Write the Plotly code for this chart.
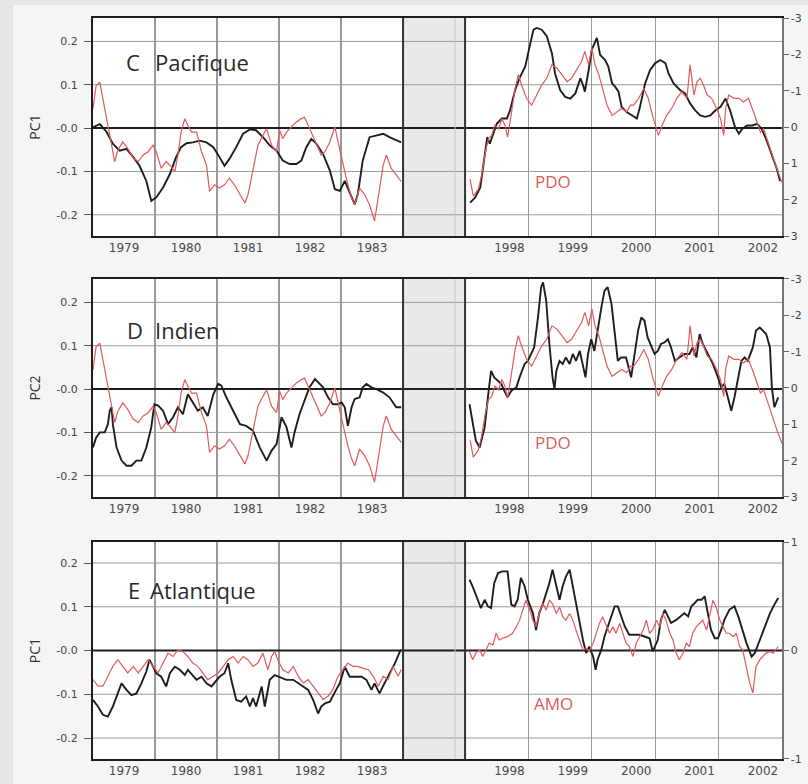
import plotly.graph_objects as go

# ---------------- data ----------------
YEARS_A = [1979, 1980, 1981, 1982, 1983]
YEARS_B = [1998, 1999, 2000, 2001, 2002]
PC_TICKS = [-0.2, -0.1, 0.0, 0.1, 0.2]
PC_TICKTEXT = ["-0.2", "-0.1", "-0.0", "0.1", "0.2"]
PDO_TICKS = [-3, -2, -1, 0, 1, 2, 3]
AMO_TICKS = [-1, 0, 1]
XRANGE_A = [1978.5, 1983.5]
XRANGE_B = [1997.3, 2002.3]
XRANGE_GAP = [0.0, 1.0]

# PDO index (red, panels C and D)
PDO_T1 = [1978.50, 1978.55, 1978.61, 1978.69, 1978.77, 1978.85, 1978.90, 1978.98, 1979.06, 1979.15,
          1979.23, 1979.31, 1979.39, 1979.47, 1979.52, 1979.60, 1979.68, 1979.76, 1979.82, 1979.87,
          1979.92, 1979.98, 1980.03, 1980.09, 1980.17, 1980.25, 1980.33, 1980.38, 1980.46, 1980.54,
          1980.62, 1980.70, 1980.78, 1980.87, 1980.95, 1981.00, 1981.08, 1981.16, 1981.24, 1981.30,
          1981.38, 1981.46, 1981.51, 1981.56, 1981.62, 1981.70, 1981.78, 1981.86, 1981.91, 1981.97,
          1982.02, 1982.08, 1982.13, 1982.18, 1982.24, 1982.32, 1982.40, 1982.45, 1982.51, 1982.56,
          1982.61, 1982.67, 1982.72, 1982.80, 1982.88, 1982.96, 1983.04, 1983.10, 1983.18, 1983.23,
          1983.31, 1983.39, 1983.47]
PDO_V1 = [-0.50, -1.14, -1.23, -0.50, 0.23, 0.95, 0.64, 0.41, 0.59, 0.86,
          0.95, 0.77, 0.68, 0.50, 0.68, 1.14, 0.95, 1.09, 1.23, 0.77,
          0.14, -0.23, -0.05, 0.14, 0.14, 0.68, 1.05, 1.77, 1.59, 1.68,
          1.59, 1.41, 1.59, 1.86, 2.09, 1.86, 1.14, 0.50, 0.23, 0.05,
          0.50, 0.68, 0.09, 0.32, 0.14, 0.00, -0.14, -0.23, -0.27, -0.05,
          0.14, 0.41, 0.59, 0.77, 0.68, 0.41, 0.00, 0.41, 0.86, 1.23,
          1.59, 1.95, 2.14, 1.68, 1.86, 2.14, 2.59, 1.95, 1.05, 0.77,
          1.14, 1.32, 1.50]
PDO_T2 = [1997.38, 1997.43, 1997.51, 1997.56, 1997.62, 1997.67, 1997.72, 1997.77, 1997.83, 1997.88,
          1997.93, 1997.97, 1998.01, 1998.09, 1998.14, 1998.19, 1998.27, 1998.35, 1998.43, 1998.51,
          1998.59, 1998.67, 1998.75, 1998.83, 1998.91, 1998.98, 1999.06, 1999.14, 1999.19, 1999.25,
          1999.30, 1999.35, 1999.41, 1999.48, 1999.54, 1999.62, 1999.69, 1999.77, 1999.85, 1999.91,
          1999.96, 2000.04, 2000.12, 2000.19, 2000.27, 2000.35, 2000.41, 2000.48, 2000.56, 2000.64,
          2000.72, 2000.80, 2000.85, 2000.91, 2000.96, 2001.01, 2001.06, 2001.12, 2001.19, 2001.27,
          2001.33, 2001.38, 2001.41, 2001.46, 2001.54, 2001.62, 2001.69, 2001.77, 2001.85, 2001.91,
          2001.96, 2002.01, 2002.06, 2002.14, 2002.22, 2002.30]
PDO_V2 = [1.44, 1.90, 1.71, 1.34, 0.69, 0.32, 0.23, -0.05, 0.05, -0.23,
          -0.05, 0.28, -0.14, -1.06, -1.44, -1.16, -0.79, -0.60, -0.88, -1.16,
          -1.34, -1.71, -1.62, -1.44, -1.25, -1.34, -1.57, -1.81, -2.08, -1.71,
          -2.18, -1.71, -1.44, -0.97, -0.60, -0.32, -0.42, -0.51, -0.42, -0.60,
          -0.60, -0.79, -1.06, -0.79, -0.23, 0.23, -0.05, -0.32, -0.51, -0.79,
          -0.97, -0.79, -1.71, -0.88, -1.25, -1.34, -1.16, -0.88, -0.79, -0.51,
          -0.23, 0.23, -0.51, -0.88, -0.79, -0.79, -0.69, -0.79, -0.42, -0.14,
          0.14, 0.05, 0.32, 0.69, 1.16, 1.53]

# Pacific PC1 (black, panel C)
PAC_T1 = [1978.50, 1978.61, 1978.72, 1978.82, 1978.93, 1979.04, 1979.15, 1979.25, 1979.36, 1979.44,
          1979.52, 1979.63, 1979.74, 1979.84, 1979.92, 1980.01, 1980.11, 1980.22, 1980.33, 1980.44,
          1980.54, 1980.62, 1980.70, 1980.81, 1980.92, 1981.03, 1981.13, 1981.24, 1981.35, 1981.46,
          1981.56, 1981.67, 1981.78, 1981.86, 1981.94, 1982.02, 1982.10, 1982.21, 1982.32, 1982.40,
          1982.48, 1982.56, 1982.64, 1982.72, 1982.77, 1982.85, 1982.96, 1983.07, 1983.18, 1983.28,
          1983.39, 1983.47]
PAC_V1 = [0.002, 0.009, -0.009, -0.036, -0.052, -0.048, -0.067, -0.087, -0.122, -0.168,
          -0.160, -0.137, -0.106, -0.067, -0.044, -0.035, -0.033, -0.029, -0.033, -0.044,
          -0.067, -0.087, -0.071, -0.044, -0.013, -0.003, -0.005, -0.021, -0.040, -0.052,
          -0.075, -0.083, -0.083, -0.075, -0.044, -0.025, -0.036, -0.060, -0.098, -0.141,
          -0.145, -0.122, -0.149, -0.176, -0.153, -0.075, -0.021, -0.017, -0.013, -0.021,
          -0.029, -0.033]
PAC_T2 = [1997.38, 1997.46, 1997.54, 1997.62, 1997.65, 1997.69, 1997.75, 1997.80, 1997.88, 1997.96,
          1998.01, 1998.09, 1998.17, 1998.25, 1998.33, 1998.38, 1998.43, 1998.51, 1998.59, 1998.67,
          1998.72, 1998.80, 1998.88, 1998.96, 1999.04, 1999.12, 1999.17, 1999.19, 1999.25, 1999.30,
          1999.38, 1999.43, 1999.51, 1999.56, 1999.62, 1999.67, 1999.72, 1999.77, 1999.85, 1999.93,
          2000.01, 2000.06, 2000.14, 2000.22, 2000.30, 2000.38, 2000.46, 2000.51, 2000.59, 2000.69,
          2000.77, 2000.85, 2000.93, 2001.01, 2001.09, 2001.17, 2001.25, 2001.33, 2001.41, 2001.48,
          2001.56, 2001.62, 2001.67, 2001.75, 2001.83, 2001.91, 2001.98, 2002.06, 2002.14, 2002.22,
          2002.27]
PAC_V2 = [-0.172, -0.160, -0.137, -0.052, -0.021, -0.036, -0.013, 0.010, 0.022, 0.022,
          0.041, 0.088, 0.119, 0.142, 0.196, 0.227, 0.231, 0.227, 0.212, 0.173,
          0.126, 0.088, 0.072, 0.068, 0.080, 0.115, 0.095, 0.084, 0.134, 0.181,
          0.208, 0.169, 0.157, 0.142, 0.103, 0.095, 0.084, 0.049, 0.037, 0.029,
          0.022, 0.049, 0.103, 0.134, 0.150, 0.157, 0.150, 0.126, 0.103, 0.088,
          0.080, 0.057, 0.041, 0.029, 0.026, 0.029, 0.041, 0.049, 0.068, 0.041,
          0.002, -0.013, -0.002, 0.006, 0.006, 0.010, -0.002, -0.029, -0.060, -0.095,
          -0.122]

# Indian PC2 (black, panel D)
IND_T1 = [1978.50, 1978.55, 1978.61, 1978.69, 1978.74, 1978.77, 1978.80, 1978.82, 1978.88, 1978.96,
          1979.04, 1979.12, 1979.20, 1979.28, 1979.36, 1979.44, 1979.49, 1979.55, 1979.63, 1979.71,
          1979.79, 1979.87, 1979.95, 1980.03, 1980.11, 1980.19, 1980.27, 1980.35, 1980.44, 1980.52,
          1980.57, 1980.65, 1980.76, 1980.87, 1980.97, 1981.08, 1981.19, 1981.30, 1981.38, 1981.46,
          1981.54, 1981.62, 1981.70, 1981.75, 1981.83, 1981.91, 1981.99, 1982.08, 1982.13, 1982.21,
          1982.29, 1982.37, 1982.45, 1982.51, 1982.56, 1982.61, 1982.67, 1982.72, 1982.80, 1982.85,
          1982.91, 1982.99, 1983.07, 1983.18, 1983.28, 1983.39, 1983.47]
IND_V1 = [-0.135, -0.112, -0.100, -0.100, -0.081, -0.050, -0.042, -0.081, -0.135, -0.165,
          -0.177, -0.177, -0.165, -0.165, -0.135, -0.088, -0.035, -0.038, -0.050, -0.081,
          -0.065, -0.042, -0.058, -0.012, -0.031, -0.050, -0.042, -0.062, -0.012, 0.012,
          0.008, -0.019, -0.050, -0.081, -0.085, -0.096, -0.135, -0.165, -0.142, -0.127,
          -0.065, -0.088, -0.135, -0.100, -0.058, -0.027, 0.004, 0.023, 0.015, 0.004,
          -0.019, -0.035, -0.035, -0.031, -0.042, -0.085, -0.042, -0.023, -0.019, 0.004,
          0.012, 0.004, 0.000, -0.008, -0.019, -0.042, -0.042]
IND_T2 = [1997.37, 1997.42, 1997.47, 1997.53, 1997.61, 1997.66, 1997.71, 1997.76, 1997.82, 1997.87,
          1997.92, 1997.97, 1998.03, 1998.11, 1998.16, 1998.24, 1998.29, 1998.34, 1998.39, 1998.45,
          1998.50, 1998.53, 1998.58, 1998.63, 1998.68, 1998.71, 1998.74, 1998.79, 1998.84, 1998.89,
          1998.95, 1999.00, 1999.05, 1999.11, 1999.16, 1999.20, 1999.24, 1999.29, 1999.34, 1999.39,
          1999.45, 1999.50, 1999.55, 1999.61, 1999.66, 1999.71, 1999.76, 1999.84, 1999.92, 1999.97,
          2000.03, 2000.08, 2000.13, 2000.18, 2000.24, 2000.29, 2000.34, 2000.39, 2000.45, 2000.50,
          2000.55, 2000.61, 2000.68, 2000.76, 2000.84, 2000.89, 2000.95, 2001.00, 2001.05, 2001.11,
          2001.16, 2001.21, 2001.29, 2001.34, 2001.39, 2001.45, 2001.50, 2001.55, 2001.61, 2001.66,
          2001.71, 2001.76, 2001.84, 2001.89, 2001.95, 2002.00, 2002.05, 2002.11, 2002.14, 2002.18,
          2002.24]
IND_V2 = [-0.035, -0.081, -0.119, -0.135, -0.088, -0.019, 0.042, 0.027, 0.019, 0.012,
          -0.004, -0.019, -0.004, 0.004, 0.027, 0.058, 0.065, 0.081, 0.096, 0.165,
          0.235, 0.246, 0.204, 0.104, 0.027, 0.000, 0.042, 0.065, 0.058, 0.073,
          0.058, 0.081, 0.065, 0.088, 0.058, 0.027, 0.081, 0.115, 0.088, 0.135,
          0.188, 0.227, 0.235, 0.196, 0.135, 0.065, 0.073, 0.073, 0.027, 0.081,
          0.135, 0.165, 0.158, 0.119, 0.096, 0.081, 0.088, 0.104, 0.108, 0.115,
          0.096, 0.065, 0.073, 0.081, 0.081, 0.096, 0.073, 0.127, 0.104, 0.088,
          0.073, 0.058, 0.027, 0.004, 0.012, -0.019, -0.050, -0.019, 0.027, 0.065,
          0.073, 0.065, 0.096, 0.135, 0.142, 0.135, 0.127, 0.096, 0.004, -0.042,
          -0.019]

# Atlantic PC1 (black, panel E)
ATL_T1 = [1978.50, 1978.58, 1978.66, 1978.74, 1978.82, 1978.90, 1978.96, 1979.04, 1979.12, 1979.20,
          1979.28, 1979.36, 1979.41, 1979.47, 1979.52, 1979.60, 1979.68, 1979.74, 1979.82, 1979.90,
          1979.98, 1980.03, 1980.11, 1980.17, 1980.25, 1980.33, 1980.41, 1980.49, 1980.54, 1980.62,
          1980.68, 1980.73, 1980.81, 1980.89, 1980.97, 1981.03, 1981.08, 1981.13, 1981.22, 1981.27,
          1981.35, 1981.43, 1981.51, 1981.62, 1981.73, 1981.81, 1981.89, 1981.97, 1982.05, 1982.13,
          1982.18, 1982.24, 1982.32, 1982.37, 1982.42, 1982.48, 1982.56, 1982.64, 1982.75, 1982.83,
          1982.91, 1982.99, 1983.04, 1983.12, 1983.20, 1983.28, 1983.37, 1983.45, 1983.47]
ATL_V1 = [-0.113, -0.128, -0.147, -0.151, -0.128, -0.098, -0.075, -0.090, -0.102, -0.098,
          -0.075, -0.048, -0.021, -0.037, -0.052, -0.060, -0.082, -0.052, -0.037, -0.044,
          -0.056, -0.044, -0.056, -0.067, -0.060, -0.075, -0.082, -0.067, -0.060, -0.052,
          -0.029, -0.067, -0.113, -0.117, -0.105, -0.128, -0.109, -0.128, -0.082, -0.128,
          -0.067, -0.056, -0.060, -0.067, -0.067, -0.075, -0.082, -0.090, -0.113, -0.144,
          -0.128, -0.121, -0.117, -0.105, -0.090, -0.075, -0.037, -0.060, -0.060, -0.060,
          -0.067, -0.090, -0.075, -0.098, -0.075, -0.052, -0.029, -0.002, 0.002]
ATL_T2 = [1997.37, 1997.42, 1997.50, 1997.55, 1997.61, 1997.66, 1997.71, 1997.76, 1997.82, 1997.89,
          1997.97, 1998.03, 1998.08, 1998.13, 1998.18, 1998.24, 1998.29, 1998.37, 1998.42, 1998.47,
          1998.53, 1998.58, 1998.63, 1998.68, 1998.74, 1998.79, 1998.84, 1998.89, 1998.95, 1999.00,
          1999.05, 1999.11, 1999.16, 1999.21, 1999.26, 1999.32, 1999.36, 1999.39, 1999.45, 1999.50,
          1999.55, 1999.61, 1999.66, 1999.71, 1999.76, 1999.82, 1999.89, 1999.97, 2000.05, 2000.13,
          2000.21, 2000.26, 2000.34, 2000.39, 2000.45, 2000.50, 2000.55, 2000.63, 2000.71, 2000.76,
          2000.82, 2000.87, 2000.92, 2000.97, 2001.03, 2001.08, 2001.13, 2001.18, 2001.24, 2001.29,
          2001.34, 2001.39, 2001.47, 2001.55, 2001.61, 2001.66, 2001.74, 2001.82, 2001.87, 2001.95,
          2002.03, 2002.11, 2002.18, 2002.24]
ATL_V2 = [0.162, 0.146, 0.116, 0.097, 0.116, 0.101, 0.097, 0.154, 0.177, 0.181,
          0.181, 0.105, 0.101, 0.116, 0.166, 0.147, 0.116, 0.085, 0.047, 0.085,
          0.108, 0.131, 0.154, 0.185, 0.147, 0.116, 0.147, 0.169, 0.185, 0.147,
          0.101, 0.055, 0.024, -0.006, 0.009, -0.014, -0.044, -0.021, 0.002, 0.032,
          0.055, 0.078, 0.101, 0.101, 0.078, 0.055, 0.036, 0.036, 0.036, 0.032,
          0.028, -0.002, 0.024, 0.070, 0.093, 0.078, 0.063, 0.070, 0.078, 0.085,
          0.078, 0.101, 0.108, 0.116, 0.116, 0.124, 0.085, 0.047, 0.028, 0.028,
          0.047, 0.070, 0.093, 0.101, 0.078, 0.055, 0.017, -0.014, -0.006, 0.024,
          0.055, 0.085, 0.105, 0.120]

# AMO index (red, panel E)
AMO_T1 = [1978.50, 1978.58, 1978.66, 1978.74, 1978.82, 1978.90, 1978.98, 1979.06, 1979.15, 1979.23,
          1979.31, 1979.39, 1979.47, 1979.55, 1979.63, 1979.71, 1979.79, 1979.87, 1979.95, 1980.03,
          1980.11, 1980.19, 1980.27, 1980.35, 1980.44, 1980.52, 1980.60, 1980.68, 1980.76, 1980.84,
          1980.92, 1981.00, 1981.08, 1981.16, 1981.24, 1981.32, 1981.38, 1981.43, 1981.48, 1981.56,
          1981.65, 1981.73, 1981.81, 1981.89, 1981.97, 1982.05, 1982.13, 1982.21, 1982.29, 1982.37,
          1982.45, 1982.53, 1982.61, 1982.69, 1982.77, 1982.85, 1982.94, 1983.02, 1983.10, 1983.18,
          1983.26, 1983.34, 1983.42, 1983.47]
AMO_V1 = [-0.268, -0.329, -0.329, -0.238, -0.146, -0.085, -0.146, -0.207, -0.146, -0.207,
          -0.146, -0.085, -0.146, -0.207, -0.116, -0.024, -0.055, 0.006, -0.009, -0.055,
          -0.116, -0.146, -0.207, -0.268, -0.238, -0.207, -0.146, -0.085, -0.055, -0.116,
          -0.055, -0.085, -0.146, -0.116, -0.024, -0.177, -0.055, -0.009, -0.085, -0.177,
          -0.207, -0.146, -0.238, -0.299, -0.268, -0.329, -0.390, -0.451, -0.421, -0.360,
          -0.238, -0.177, -0.116, -0.146, -0.146, -0.162, -0.177, -0.238, -0.329, -0.238,
          -0.268, -0.146, -0.238, -0.177]
AMO_T2 = [1997.37, 1997.42, 1997.47, 1997.53, 1997.58, 1997.63, 1997.68, 1997.74, 1997.79, 1997.84,
          1997.89, 1997.97, 1998.05, 1998.11, 1998.16, 1998.21, 1998.26, 1998.32, 1998.37, 1998.42,
          1998.47, 1998.53, 1998.58, 1998.63, 1998.68, 1998.74, 1998.79, 1998.84, 1998.89, 1998.95,
          1999.00, 1999.05, 1999.11, 1999.16, 1999.21, 1999.26, 1999.32, 1999.37, 1999.42, 1999.47,
          1999.53, 1999.58, 1999.63, 1999.68, 1999.74, 1999.79, 1999.84, 1999.89, 1999.95, 2000.00,
          2000.05, 2000.11, 2000.16, 2000.21, 2000.26, 2000.32, 2000.37, 2000.42, 2000.47, 2000.53,
          2000.58, 2000.63, 2000.68, 2000.74, 2000.79, 2000.84, 2000.89, 2000.95, 2001.00, 2001.05,
          2001.11, 2001.16, 2001.21, 2001.26, 2001.32, 2001.37, 2001.42, 2001.47, 2001.53, 2001.58,
          2001.63, 2001.68, 2001.74, 2001.79, 2001.84, 2001.89, 2001.95, 2002.00, 2002.05, 2002.11,
          2002.16, 2002.24]
AMO_V2 = [-0.009, -0.085, -0.024, 0.006, -0.055, 0.006, 0.067, 0.052, 0.159, 0.098,
          0.113, 0.128, 0.159, 0.220, 0.280, 0.372, 0.463, 0.372, 0.280, 0.220,
          0.341, 0.433, 0.372, 0.463, 0.433, 0.341, 0.402, 0.311, 0.280, 0.341,
          0.280, 0.189, 0.098, 0.006, 0.021, -0.009, 0.067, 0.159, 0.250, 0.311,
          0.220, 0.159, 0.220, 0.159, 0.250, 0.159, 0.067, 0.037, -0.055, 0.067,
          0.128, 0.189, 0.280, 0.159, 0.189, 0.280, 0.220, 0.341, 0.280, 0.159,
          0.098, -0.024, -0.085, -0.024, 0.067, 0.037, 0.159, 0.220, 0.250, 0.280,
          0.189, 0.341, 0.463, 0.402, 0.280, 0.220, 0.159, 0.159, 0.128, 0.159,
          0.037, 0.006, -0.146, -0.299, -0.390, -0.146, -0.085, -0.055, -0.024, -0.009,
          -0.024, 0.037]

# ---------------- figure ----------------
BLACK = "#1e1e1e"
RED = "#e05a5e"
GRID = "#9a9a9a"
FONT = "Open Sans"
GAP = [0.45, 0.54]
W, H = 808, 784
M = dict(l=93, r=26, t=18, b=25)

panels = [
    dict(letter="C", name="Pacifique", ytitle="PC1", t1=PAC_T1, v1=PAC_V1, t2=PAC_T2, v2=PAC_V2,
         it1=PDO_T1, iv1=PDO_V1, it2=PDO_T2, iv2=PDO_V2, index="PDO",
         yrange=[-0.249, 0.254], irange=[3, -3], iticks=PDO_TICKS,
         dom=[0.7058, 1.0], ly=0.798, namex=0.194, letx=0.129, idy=0.249),
    dict(letter="D", name="Indien", ytitle="PC2", t1=IND_T1, v1=IND_V1, t2=IND_T2, v2=IND_V2,
         it1=PDO_T1, iv1=PDO_V1, it2=PDO_T2, iv2=PDO_V2, index="PDO",
         yrange=[-0.249, 0.254], irange=[3, -3], iticks=PDO_TICKS,
         dom=[0.3536, 0.6478], ly=0.766, namex=0.194, letx=0.135, idy=0.248),
    dict(letter="E", name="Atlantique", ytitle="PC1", t1=ATL_T1, v1=ATL_V1, t2=ATL_T2, v2=ATL_V2,
         it1=AMO_T1, iv1=AMO_V1, it2=AMO_T2, iv2=AMO_V2, index="AMO",
         yrange=[-0.248, 0.248], irange=[-1, 1], iticks=AMO_TICKS,
         dom=[0.0, 0.2928], ly=0.779, namex=0.176, letx=0.132, idy=0.258),
]


def tr(a, n):
    return a if n == 1 else f"{a}{n}"


def lk(a, n):
    return f"{a}axis" if n == 1 else f"{a}axis{n}"


def ref_lines(xrange_, xname, yname):
    """Horizontal reference lines at the PC tick values across one sub-period."""
    out = []
    for v in PC_TICKS:
        zero = (v == 0)
        out.append(go.Scatter(x=xrange_, y=[v, v], xaxis=xname, yaxis=yname, mode="lines",
                              line=dict(color=BLACK if zero else GRID, width=2 if zero else 1),
                              showlegend=False, hoverinfo="skip"))
    return out


fig = go.Figure()
layout = {}
shapes = []
annotations = []

# outer light-grey strip (top and left) around the lighter card
shapes.append(dict(type="rect", xref="paper", yref="paper", x0=-0.14, x1=1.04, y0=1.0175, y1=1.03,
                   fillcolor="#e6e6e6", line=dict(width=0), layer="below"))
shapes.append(dict(type="rect", xref="paper", yref="paper", x0=-0.14, x1=-0.1161, y0=-0.04, y1=1.03,
                   fillcolor="#e6e6e6", line=dict(width=0), layer="below"))

for i, p in enumerate(panels):
    xl, xg, xr = 3 * i + 1, 3 * i + 2, 3 * i + 3
    yl, yil, yir = 3 * i + 1, 3 * i + 2, 3 * i + 3
    XL, XG, XR, YL = tr("x", xl), tr("x", xg), tr("x", xr), tr("y", yl)

    # reference lines first so the series are drawn over them
    for t in ref_lines(XRANGE_A, XL, YL) + ref_lines(XRANGE_GAP, XG, YL) + ref_lines(XRANGE_B, XR, YL):
        fig.add_trace(t)

    fig.add_trace(go.Scatter(x=p["t1"], y=p["v1"], xaxis=XL, yaxis=YL, mode="lines",
                             line=dict(color=BLACK, width=1.9), showlegend=False, hoverinfo="skip"))
    fig.add_trace(go.Scatter(x=p["it1"], y=p["iv1"], xaxis=XL, yaxis=tr("y", yil), mode="lines",
                             line=dict(color=RED, width=1.2), showlegend=False, hoverinfo="skip"))
    fig.add_trace(go.Scatter(x=p["t2"], y=p["v2"], xaxis=XR, yaxis=YL, mode="lines",
                             line=dict(color=BLACK, width=1.9), showlegend=False, hoverinfo="skip"))
    fig.add_trace(go.Scatter(x=p["it2"], y=p["iv2"], xaxis=XR, yaxis=tr("y", yir), mode="lines",
                             line=dict(color=RED, width=1.2), showlegend=False, hoverinfo="skip"))

    xcommon = dict(anchor=YL, showline=True, linecolor=BLACK, linewidth=2, mirror=True,
                   zeroline=False, ticks="", ticklabelstandoff=0, automargin=False,
                   tickfont=dict(family="DejaVu Sans", size=12, color="#4a4a4a"), fixedrange=True)
    layout[lk("x", xl)] = dict(xcommon, domain=[0, GAP[0]], range=XRANGE_A, tickmode="array",
                               tickvals=YEARS_A, ticktext=[str(y) for y in YEARS_A], showgrid=False,
                               minor=dict(tickmode="array", tickvals=[1979.5, 1980.5, 1981.5, 1982.5],
                                          showgrid=True, gridcolor=GRID, gridwidth=1.2, ticks=""))
    layout[lk("x", xg)] = dict(xcommon, domain=GAP, range=XRANGE_GAP, showticklabels=False, showgrid=False)
    layout[lk("x", xr)] = dict(xcommon, domain=[GAP[1], 1.0], range=XRANGE_B, tickmode="array",
                               tickvals=YEARS_B, ticktext=[str(y) for y in YEARS_B], showgrid=False,
                               minor=dict(tickmode="array", tickvals=[1998.3, 1999.3, 2000.3, 2001.3],
                                          showgrid=True, gridcolor=GRID, gridwidth=1.2, ticks=""))

    layout[lk("y", yl)] = dict(domain=p["dom"], anchor=XL, range=p["yrange"], tickmode="array",
                               tickvals=PC_TICKS, ticktext=PC_TICKTEXT, showgrid=False,
                               zeroline=False,
                               showline=True, linecolor=BLACK, linewidth=2, ticks="outside", ticklen=7,
                               tickcolor="#555", ticklabelstandoff=4, automargin=False,
                               tickfont=dict(family="DejaVu Sans", size=11, color="#444"),
                               title=dict(text=p["ytitle"], standoff=12,
                                          font=dict(family=FONT, size=14, color="#333")),
                               fixedrange=True)
    layout[lk("y", yil)] = dict(overlaying=YL, anchor=XL, range=p["irange"],
                                visible=False, zeroline=False, showgrid=False, fixedrange=True,
                                automargin=False)
    layout[lk("y", yir)] = dict(overlaying=YL, anchor=XR, side="right", range=p["irange"],
                                tickmode="array", tickvals=p["iticks"], ticktext=[str(v) for v in p["iticks"]],
                                showgrid=False, zeroline=False, showline=True, linecolor="#777", linewidth=1.5,
                                ticks="outside", ticklen=5, tickcolor="#666", automargin=False,
                                tickfont=dict(family="DejaVu Sans", size=11, color="#444"), fixedrange=True)

    ydom = f"{YL} domain"
    # grey gap band between the two periods
    shapes.append(dict(type="rect", xref="paper", yref=ydom, x0=GAP[0], x1=GAP[1], y0=0, y1=1,
                       fillcolor="#e9e9e9", line=dict(width=0), layer="below"))
    shapes.append(dict(type="rect", xref="paper", yref=ydom, x0=0.5247, x1=0.5262, y0=0, y1=1,
                       fillcolor="#c6c6c6", line=dict(width=0), layer="above"))
    shapes.append(dict(type="line", xref="paper", yref=ydom, x0=GAP[0], x1=GAP[0], y0=0, y1=1,
                       line=dict(color="#333", width=2)))
    shapes.append(dict(type="line", xref="paper", yref=ydom, x0=GAP[1], x1=GAP[1], y0=0, y1=1,
                       line=dict(color="#333", width=2)))

    annotations.append(dict(xref=f"{XL} domain", yref=ydom, x=p["letx"], y=p["ly"],
                            text=p["letter"], showarrow=False, xanchor="center", yanchor="middle",
                            font=dict(family=FONT, size=22, color="#2a2a2a")))
    annotations.append(dict(xref=f"{XL} domain", yref=ydom, x=p["namex"], y=p["ly"],
                            text=p["name"], showarrow=False, xanchor="left", yanchor="middle",
                            font=dict(family=FONT, size=22, color="#2a2a2a")))
    annotations.append(dict(xref=f"{XR} domain", yref=ydom, x=0.278, y=p["idy"],
                            text=p["index"], showarrow=False, xanchor="center", yanchor="middle",
                            font=dict(family=FONT, size=17, color=RED)))

fig.update_layout(**layout)
fig.update_layout(width=W, height=H, margin=dict(M, autoexpand=False),
                  paper_bgcolor="#f5f5f5", plot_bgcolor="white", shapes=shapes, annotations=annotations,
                  showlegend=False)

fig.write_html("out.html", config={"displayModeBar": False, "staticPlot": True},
               post_script="document.body.style.margin='0px';document.body.style.background='#e6e6e6';")
